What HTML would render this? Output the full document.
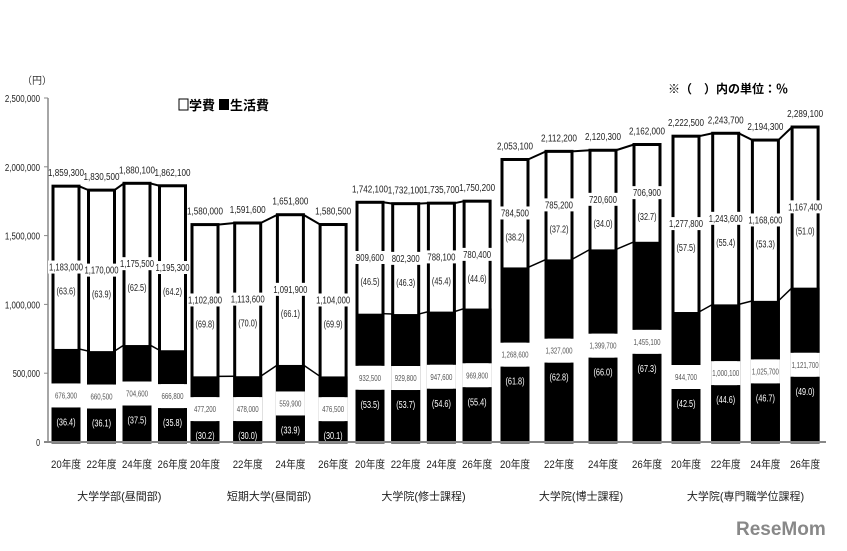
<!DOCTYPE html>
<html><head><meta charset="utf-8"><style>
html,body{margin:0;padding:0;background:#fff;width:847px;height:551px;overflow:hidden}
svg{display:block;font-family:"Liberation Sans","Noto Sans CJK JP",sans-serif}
</style></head><body>
<svg id="chart" width="847" height="551" viewBox="0 0 847 551">
<text x="22" y="84" font-size="10" fill="#333">（円）</text>
<g>
<rect x="179" y="99" width="9" height="11" fill="#fff" stroke="#000"/>
<text x="189" y="110" font-size="13" font-weight="bold">学費</text>
<rect x="219" y="99" width="10" height="11" fill="#000"/>
<text x="230" y="110" font-size="13" font-weight="bold">生活費</text>
</g>
<text x="668" y="93" font-size="12" font-weight="bold">※（　）内の単位：％</text>
<g id="plot"></g>
<g>
<text x="736" y="535" font-size="19" font-weight="bold" fill="#888">ReseMom</text>
</g>
</svg>
<script>
const groups = ["大学学部(昼間部)","短期大学(昼間部)","大学院(修士課程)","大学院(博士課程)","大学院(専門職学位課程)"];
const years = ["20年度","22年度","24年度","26年度"];
const totals = [1859300,1830500,1880100,1862100, 1580000,1591600,1651800,1580500, 1742100,1732100,1735700,1750200, 2053100,2112200,2120300,2162000, 2222500,2243700,2194300,2289100];
const tuition = [1183000,1170000,1175500,1195300, 1102800,1113600,1091900,1104000, 809600,802300,788100,780400, 784500,785200,720600,706900, 1277800,1243600,1168600,1167400];
const tuitionPct = [63.6,63.9,62.5,64.2, 69.8,70.0,66.1,69.9, 46.5,46.3,45.4,44.6, 38.2,37.2,34.0,32.7, 57.5,55.4,53.3,51.0];
const living = [676300,660500,704600,666800, 477200,478000,559900,476500, 932500,929800,947600,969800, 1268600,1327000,1399700,1455100, 944700,1000100,1025700,1121700];
const livingPct = [36.4,36.1,37.5,35.8, 30.2,30.0,33.9,30.1, 53.5,53.7,54.6,55.4, 61.8,62.8,66.0,67.3, 42.5,44.6,46.7,49.0];
const yTicks = [0,500000,1000000,1500000,2000000,2500000];
const yTickLabels = ["0","500,000","1,000,000","1,500,000","2,000,000","2,500,000"];

const NS="http://www.w3.org/2000/svg";
const plot=document.getElementById('plot');
function mk(tag,attrs,txt){const e=document.createElementNS(NS,tag);for(const k in attrs)e.setAttribute(k,attrs[k]);if(txt!==undefined)e.textContent=txt;plot.appendChild(e);return e;}
function fit(e,len){e.setAttribute('textLength',len);e.setAttribute('lengthAdjust','spacingAndGlyphs');}
const y0=442,yTop=98,vMax=2500000;
function Y(v){return y0-(v/vMax)*(y0-yTop);}
const groupX=[53,192,357,502,673], groupStep=[35.5,42.7,35.7,44,39.7], bw=26;
function X(i){const g=Math.floor(i/4),k=i%4;return groupX[g]+k*groupStep[g];}
function fmt(v){return v.toLocaleString('en-US');}
let ax=mk('line',{x1:48,y1:yTop,x2:48,y2:y0,stroke:'#888','stroke-width':1.5});

yTicks.forEach((t,i)=>{
  let l=mk('line',{x1:44,x2:48,y1:Y(t),y2:Y(t),stroke:'#888'});
  
  let tx=mk('text',{x:40,y:Y(t)+4,'font-size':10,'text-anchor':'end',fill:'#222'},yTickLabels[i]);
  
  fit(tx,yTickLabels[i].length*3.9);
});
for(let i=0;i<totals.length;i++){
  const x=X(i),yt=Y(totals[i]),yb=Y(living[i]);
  const gc=Y(living[i]/2),gTop=gc-12,gBot=gc+12;
  let r=mk('rect',{x:x,y:yt,width:bw,height:y0-yt,fill:'#fff',stroke:'#000','stroke-width':3});
  
  let b1=mk('rect',{x:x-1.5,y:yb,width:bw+3,height:Math.max(0,gTop-yb),fill:'#000'});
  
  let gap=mk('rect',{x:x-1.5,y:gTop,width:bw+3,height:24,fill:'#fff'});
  
  let b2=mk('rect',{x:x-1.5,y:gBot,width:bw+3,height:y0-gBot,fill:'#000'});
  
  const cx=x+bw/2;
  let t1=mk('text',{x:cx,y:yt-10,'font-size':10,'text-anchor':'middle',fill:'#222'},fmt(totals[i]));
  
  fit(t1,36);
  const mid=(yt+yb)/2;
  const tl=tuition[i]>=1000000?34:28;
  let bg=mk('rect',{x:cx-tl/2-1,y:mid-7,width:tl+2,height:13,fill:'#fff'});
  
  let t2=mk('text',{x:cx,y:mid+3,'font-size':10,'text-anchor':'middle',fill:'#222'},fmt(tuition[i]));
  
  fit(t2,tl);
  let t3=mk('text',{x:cx,y:mid+27,'font-size':10,'text-anchor':'middle',fill:'#222'},'('+tuitionPct[i].toFixed(1)+')');
  
  fit(t3,19);
  let t4=mk('text',{x:cx,y:gc+3,'font-size':8,'text-anchor':'middle',fill:'#555'},fmt(living[i]));
  
  fit(t4,living[i]>=1000000?27:22);
  let t5=mk('text',{x:cx,y:gBot+18,'font-size':10,'text-anchor':'middle',fill:'#fff'},'('+livingPct[i].toFixed(1)+')');
  
  fit(t5,19);
  let xl=mk('text',{x:cx,y:468,'font-size':11,'text-anchor':'middle',fill:'#222'},years[i%4]);
  
  fit(xl,30);
  if(i%4!==3){
    const xn=X(i+1);
    let c1=mk('line',{x1:x+bw,y1:yt,x2:xn,y2:Y(totals[i+1]),stroke:'#000','stroke-width':2});
    
    let c2=mk('line',{x1:x+bw,y1:yb,x2:xn,y2:Y(living[i+1]),stroke:'#000','stroke-width':1.5});
    
  }
}
groups.forEach((g,k)=>{
  const cx=(X(k*4)+X(k*4+3)+bw)/2;
  let t=mk('text',{x:cx,y:500,'font-size':11,'text-anchor':'middle',fill:'#222'},g);
  
});
let base=mk('line',{x1:44,y1:y0,x2:826,y2:y0,stroke:'#888','stroke-width':2});

</script>
</body></html>
